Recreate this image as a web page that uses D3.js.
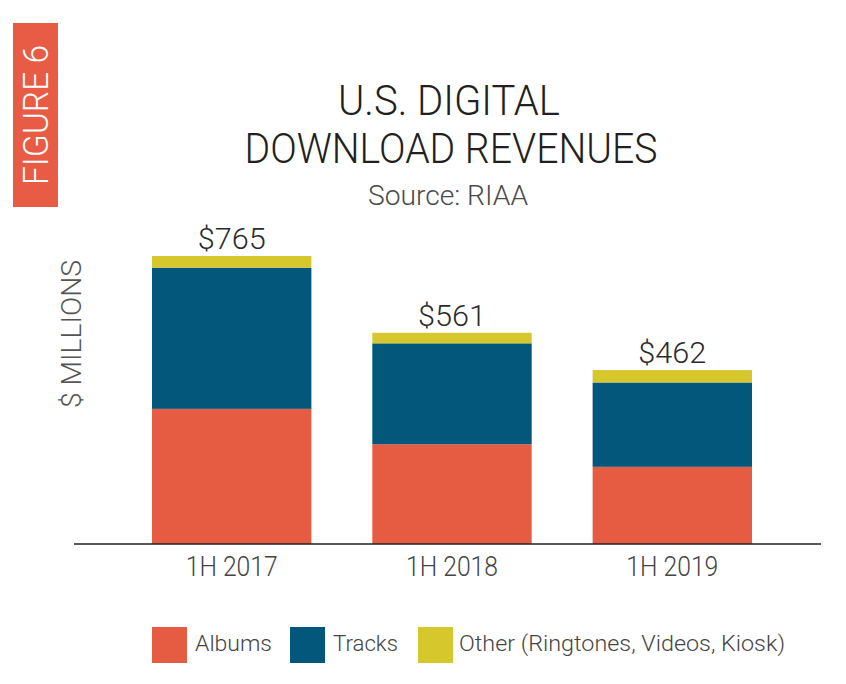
<!DOCTYPE html>
<html><head><meta charset="utf-8">
<script src="https://cdn.jsdelivr.net/npm/d3@7"></script>
<style>body{margin:0;background:#fff}svg{display:block}text{font-family:Roboto,"DejaVu Sans",sans-serif;font-weight:300}</style>
</head><body>
<svg id="c" width="846" height="684"></svg>
<script>
const categories = ["1H 2017", "1H 2018", "1H 2019"];
const seriesNames = ["Albums", "Tracks", "Other (Ringtones, Videos, Kiosk)"];
const albums = [359, 265, 205];
const tracks = [375, 268, 224];
const other = [31, 28, 33];
const totalLabels = ["$765", "$561", "$462"];
const colors = ["#e65c42", "#02577a", "#d6c72d"];

const svg = d3.select("#c");
const rows = categories.map((c, i) => ({cat: c, Albums: albums[i], Tracks: tracks[i], Other: other[i]}));
const keys = ["Albums", "Tracks", "Other"];
const stack = d3.stack().keys(keys)(rows);
const totals = rows.map(r => r.Albums + r.Tracks + r.Other);

const x = d3.scaleBand().domain(categories).range([152, 752]).paddingInner(0.2766).paddingOuter(0);
const y = d3.scaleLinear().domain([0, d3.max(totals)]).range([544, 256]);

// Figure tag
svg.append("rect").attr("x", 13).attr("y", 23).attr("width", 45).attr("height", 184).attr("fill", "#e85c45");
svg.append("text").attr("transform", "translate(48,115) rotate(-90)")
  .attr("text-anchor", "middle").attr("font-size", 35).attr("fill", "#fff")
  .attr("textLength", 140).attr("lengthAdjust", "spacingAndGlyphs").text("FIGURE 6");

// Title
svg.append("text").attr("x", 449).attr("y", 115).attr("text-anchor", "middle").attr("font-size", 42)
  .attr("fill", "#231f20").attr("textLength", 222).attr("lengthAdjust", "spacingAndGlyphs").text("U.S. DIGITAL");
svg.append("text").attr("x", 451).attr("y", 163).attr("text-anchor", "middle").attr("font-size", 42)
  .attr("fill", "#231f20").attr("textLength", 413).attr("lengthAdjust", "spacingAndGlyphs").text("DOWNLOAD REVENUES");
svg.append("text").attr("x", 448).attr("y", 205).attr("text-anchor", "middle").attr("font-size", 28)
  .attr("fill", "#4a4a4a").attr("textLength", 160).attr("lengthAdjust", "spacingAndGlyphs").text("Source: RIAA");

// Y label
svg.append("text").attr("transform", "translate(81,334) rotate(-90)").attr("text-anchor", "middle")
  .attr("font-size", 28).attr("fill", "#555").attr("textLength", 148).attr("lengthAdjust", "spacingAndGlyphs")
  .text("$ MILLIONS");

// Bars
svg.append("g").selectAll("g").data(stack).join("g").attr("fill", (d, i) => colors[i])
  .selectAll("rect").data(d => d).join("rect")
  .attr("x", d => x(d.data.cat)).attr("width", x.bandwidth())
  .attr("y", d => y(d[1])).attr("height", d => y(d[0]) - y(d[1]));

// Totals
svg.append("g").selectAll("text").data(categories).join("text")
  .attr("x", d => x(d) + x.bandwidth() / 2).attr("y", (d, i) => y(totals[i]) - 7)
  .attr("text-anchor", "middle").attr("font-size", 29.5).attr("fill", "#2b2b2b")
  .attr("textLength", 68).attr("lengthAdjust", "spacingAndGlyphs")
  .text((d, i) => totalLabels[i]);

// X axis
const xAxis = d3.axisBottom(x).tickSize(0).tickPadding(0);
const gx = svg.append("g").attr("transform", "translate(0,544)").call(xAxis);
gx.select(".domain").remove();
gx.selectAll("text").attr("font-size", 27).attr("fill", "#444").attr("dy", 0).attr("y", 32)
  .attr("font-family", "Roboto, sans-serif").attr("font-weight", 300)
  .attr("textLength", 92).attr("lengthAdjust", "spacingAndGlyphs");
svg.append("line").attr("x1", 74).attr("x2", 821).attr("y1", 544).attr("y2", 544)
  .attr("stroke", "#222").attr("stroke-width", 1.6);

// Legend
const legX = [152, 290, 418];
const legTextLen = [77, 65, 326];
const lg = svg.append("g").selectAll("g").data(seriesNames).join("g")
  .attr("transform", (d, i) => `translate(${legX[i]},627)`);
lg.append("rect").attr("width", 35).attr("height", 36).attr("fill", (d, i) => colors[i]);
lg.append("text").attr("x", (d, i) => i === 2 ? 41 : 43).attr("y", 24)
  .attr("font-size", 22.5).attr("fill", "#444")
  .attr("textLength", (d, i) => legTextLen[i]).attr("lengthAdjust", "spacingAndGlyphs")
  .text(d => d);
</script>
</body></html>
